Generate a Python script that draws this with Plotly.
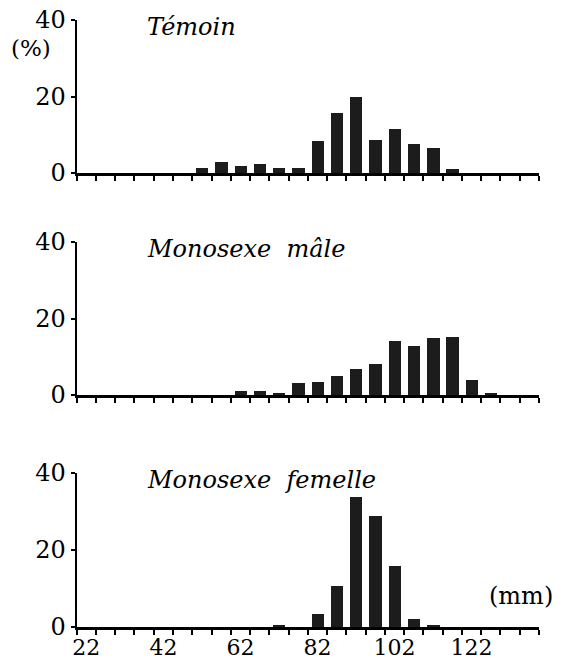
import plotly.graph_objects as go

# bin centres (mm), bin width 5 mm
centres = [22, 27, 32, 37, 42, 47, 52, 57, 62, 67, 72, 77, 82, 87, 92, 97, 102, 107, 112, 117, 122, 127, 132, 137]
temoin = [0, 0, 0, 0, 0, 0, 1.3, 3.0, 1.8, 2.3, 1.3, 1.3, 8.4, 15.7, 20.0, 8.7, 11.6, 7.7, 6.6, 1.0, 0, 0, 0, 0]
male = [0, 0, 0, 0, 0, 0, 0, 0, 1.1, 1.1, 0.3, 3.1, 3.5, 4.9, 6.8, 8.1, 14.0, 12.7, 14.8, 15.2, 4.0, 0.3, 0, 0]
femelle = [0, 0, 0, 0, 0, 0, 0, 0, 0, 0, 0.4, 0, 3.5, 10.7, 33.8, 28.8, 15.9, 2.2, 0.3, 0, 0, 0, 0, 0]
titles = ["Témoin", "Monosexe  mâle", "Monosexe  femelle"]
x_labels = [22, 42, 62, 82, 102, 122]
y_ticks = [0, 20, 40]
bin_width = 5
edges = [c - bin_width / 2 for c in centres] + [centres[-1] + bin_width / 2]

W, H = 563, 662
FONT = "DejaVu Serif"
BAR = "#1c1c1c"

def py(p):
    return 1 - p / H

panels = [(20, 173), (242, 395), (473, 627)]  # pixel y of 40 and 0
x_dom = [76.7 / W, 539 / W]

fig = go.Figure()
series = [temoin, male, femelle]
for i, vals in enumerate(series):
    n = i + 1
    fig.add_trace(go.Bar(x=centres, y=vals, width=3.2, marker=dict(color=BAR, line=dict(width=0)),
                         xaxis=f"x{n}", yaxis=f"y{n}", showlegend=False, hoverinfo="skip"))
    top, bot = panels[i]
    xa = dict(domain=x_dom, range=[edges[0], edges[-1]], anchor=f"y{n}", automargin=False,
              showline=True, linecolor="black", linewidth=2.5, showgrid=False, zeroline=False,
              tickmode="array", tickvals=edges, ticktext=["" for _ in edges],
              ticks="outside", ticklen=5, tickwidth=2, tickcolor="black")
    ya = dict(domain=[py(bot), py(top)], range=[0, 40], anchor=f"x{n}", automargin=False,
              showline=True, linecolor="black", linewidth=2, showgrid=False, zeroline=False,
              tickmode="array", tickvals=y_ticks, ticktext=[str(v) for v in y_ticks],
              ticks="outside", ticklen=4, tickwidth=2, tickcolor="black",
              tickfont=dict(family=FONT, size=24, color="black"))
    fig.update_layout(**{f"xaxis{n}": xa, f"yaxis{n}": ya})
    fig.add_annotation(x=145 / W, y=py(top + 7), xref="paper", yref="paper", text=f"<i>{titles[i]}</i>",
                       showarrow=False, xanchor="left", yanchor="middle",
                       font=dict(family=FONT, size=24, color="black"))

# overlay axis carrying the bottom tick labels at bin centres
fig.add_trace(go.Scatter(x=[centres[0]], y=[0], xaxis="x4", yaxis="y3", mode="markers",
                         marker=dict(opacity=0), showlegend=False, hoverinfo="skip"))
fig.update_layout(xaxis4=dict(domain=x_dom, range=[edges[0], edges[-1]], overlaying="x3", anchor="y3",
                              side="bottom", showline=False, showgrid=False, zeroline=False, automargin=False,
                              tickmode="array", tickvals=x_labels, ticktext=[str(v) for v in x_labels],
                              ticks="outside", ticklen=1, tickcolor="rgba(0,0,0,0)",
                              tickfont=dict(family=FONT, size=22, color="black")))

fig.add_annotation(x=31 / W, y=py(48), xref="paper", yref="paper", text="(%)", showarrow=False,
                   xanchor="center", yanchor="middle", font=dict(family=FONT, size=23, color="black"))
fig.add_annotation(x=521 / W, y=py(596), xref="paper", yref="paper", text="(mm)", showarrow=False,
                   xanchor="center", yanchor="middle", font=dict(family=FONT, size=24, color="black"))

fig.update_layout(width=W, height=H, margin=dict(l=0, r=0, t=0, b=0),
                  paper_bgcolor="white", plot_bgcolor="white", bargap=0)
fig.write_html("out.html")
